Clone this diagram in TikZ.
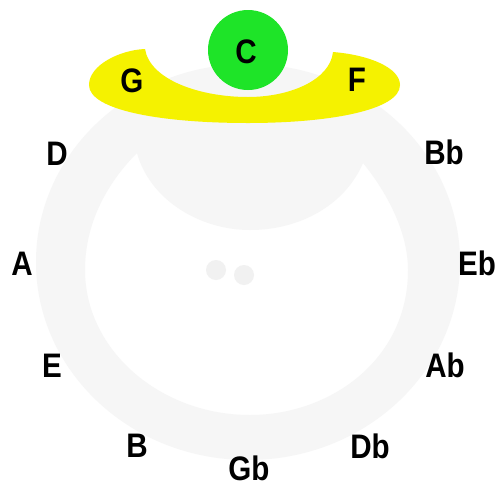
\documentclass[tikz,border=0pt]{standalone}
\usepackage{fontspec}
\setmainfont{Liberation Sans}
\definecolor{ringgray}{RGB}{246,246,246}
\definecolor{dotgray}{RGB}{241,241,241}
\definecolor{bandyellow}{RGB}{245,242,0}
\definecolor{cgreen}{RGB}{30,228,40}
\begin{document}
\begin{tikzpicture}[x=1pt,y=-1pt,
  note/.style={font=\fontsize{34}{34}\selectfont\bfseries, inner sep=0pt, anchor=base, xscale=0.87}]
\useasboundingbox (0,0) rectangle (500,488);
\fill[white] (0,0) rectangle (500,488);
% faint gray ring
\fill[ringgray, even odd rule] (248,262) ellipse [x radius=212, y radius=198]
  (137,153) .. controls (150,200) and (200,230) .. (250,230)
  .. controls (300,230) and (345,205) .. (363,163)
  .. controls (385,190) and (408,230) .. (408,270)
  .. controls (408,360) and (330,415) .. (250,415)
  .. controls (160,415) and (85,350) .. (85,270)
  .. controls (85,220) and (110,180) .. (137,153) -- cycle;
\fill[dotgray] (216,270) circle (10);
\fill[dotgray] (244,275) circle (10);
% yellow crescent
\fill[bandyellow] (145,49) .. controls (150,80) and (200,97) .. (248,97)
  .. controls (290,97) and (330,80) .. (333,52)
  .. controls (370,55) and (400,68) .. (400,85)
  .. controls (400,110) and (330,123) .. (248,123)
  .. controls (160,123) and (89,110) .. (89,85)
  .. controls (89,65) and (120,50) .. (145,49) -- cycle;
% green circle
\fill[cgreen] (248,50) circle (40);
% labels
\node[note] (nC)  at (246,63)  {C};
\node[note] (nG)  at (132,92)  {G};
\node[note] (nF)  at (357,91)  {F};
\node[note] (nD)  at (57,165)  {D};
\node[note] (nBb) at (444,164) {Bb};
\node[note] (nA)  at (22,275)  {A};
\node[note] (nEb) at (477,275) {Eb};
\node[note] (nE)  at (52,377)  {E};
\node[note] (nAb) at (445,377) {Ab};
\node[note] (nB)  at (137,457) {B};
\node[note] (nDb) at (370,458) {Db};
\node[note] (nGb) at (249,480) {Gb};
\end{tikzpicture}
\end{document}
